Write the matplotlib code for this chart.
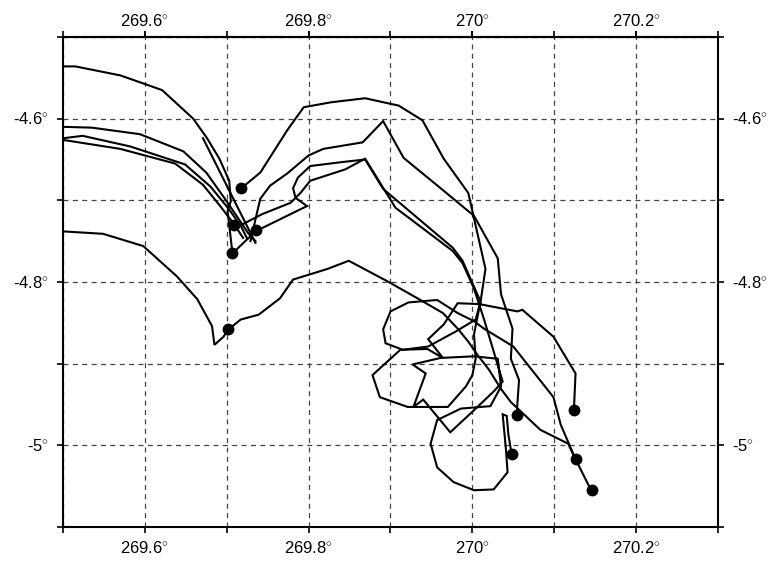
"""
Drifter tracks
==============

Track lines with end positions on a lon/lat grid.
"""
import numpy as np
import matplotlib as mpl
import matplotlib.pyplot as plt
from matplotlib.ticker import MultipleLocator, FixedLocator

mpl.rcParams['font.family'] = ['Liberation Sans', 'DejaVu Sans']
mpl.rcParams['mathtext.fontset'] = 'custom'
mpl.rcParams['mathtext.rm'] = 'Liberation Sans'

#---------------------------------------------------------------------------------------------------
# Track data (lon, lat in degrees)
#---------------------------------------------------------------------------------------------------

track1_lon = [269.500, 269.515, 269.570, 269.621, 269.659, 269.676, 269.691, 269.703, 269.705, 269.701, 269.707]
track1_lat = [-4.536, -4.536, -4.547, -4.565, -4.600, -4.624, -4.649, -4.676, -4.701, -4.713, -4.765]

track2_lon = [269.500, 269.535, 269.594, 269.647, 269.675, 269.697, 269.714, 269.726, 269.735]
track2_lat = [-4.610, -4.611, -4.619, -4.640, -4.666, -4.697, -4.722, -4.740, -4.750]

track3_lon = [269.500, 269.524, 269.582, 269.649, 269.680, 269.702, 269.717, 269.725]
track3_lat = [-4.624, -4.621, -4.634, -4.656, -4.683, -4.710, -4.731, -4.747]

track4_lon = [269.500, 269.570, 269.637, 269.671, 269.692, 269.708, 269.720]
track4_lat = [-4.626, -4.637, -4.655, -4.681, -4.707, -4.728, -4.746]

track5_lon = [269.671, 269.735]
track5_lat = [-4.624, -4.752]

track6_lon = [269.500, 269.549, 269.598, 269.639, 269.664, 269.682, 269.685, 269.696, 269.702, 269.717,
              269.739, 269.765, 269.781, 269.823, 269.849, 269.896, 269.933, 269.964, 269.982, 269.995,
              270.006, 270.020, 270.035, 270.047, 270.083, 270.117, 270.126]
track6_lat = [-4.738, -4.741, -4.756, -4.793, -4.821, -4.854, -4.877, -4.867, -4.858, -4.846,
              -4.840, -4.820, -4.797, -4.784, -4.774, -4.799, -4.820, -4.838, -4.857, -4.873,
              -4.889, -4.907, -4.931, -4.947, -4.981, -4.998, -5.017]

track7_lon = [269.718, 269.741, 269.774, 269.794, 269.827, 269.869, 269.910, 269.939, 269.965, 269.995,
              270.002, 270.016, 270.010, 270.002, 270.004, 270.000, 269.992, 269.970, 269.921, 269.887,
              269.878, 269.912, 269.945, 269.964, 269.946, 269.965, 269.982, 270.008, 270.055, 270.061,
              270.099, 270.126, 270.124]
track7_lat = [-4.685, -4.666, -4.614, -4.586, -4.580, -4.575, -4.584, -4.602, -4.649, -4.691,
              -4.722, -4.784, -4.824, -4.864, -4.894, -4.914, -4.928, -4.953, -4.953, -4.941,
              -4.914, -4.883, -4.882, -4.893, -4.870, -4.852, -4.826, -4.827, -4.836, -4.834,
              -4.867, -4.912, -4.957]

track8_lon = [269.729, 269.737, 269.741, 269.753, 269.774, 269.800, 269.818, 269.866, 269.891, 269.916,
              269.961, 270.002, 270.031, 270.035, 270.049, 270.047, 270.057, 270.054]
track8_lat = [-4.750, -4.715, -4.698, -4.682, -4.667, -4.645, -4.637, -4.629, -4.603, -4.648,
              -4.685, -4.719, -4.771, -4.815, -4.857, -4.894, -4.920, -4.963]

track9_lon = [269.709, 269.720, 269.743, 269.778, 269.790, 269.802, 269.845, 269.869, 269.906, 269.976,
              269.988, 270.002, 270.014, 270.026, 270.037, 270.026, 270.002, 269.973, 269.940, 269.928,
              269.943, 269.927, 269.961, 270.002, 270.031, 270.035, 270.022, 269.986, 269.957, 269.949,
              269.957, 269.977, 270.002, 270.026, 270.043, 270.041, 270.037, 270.042, 270.044, 270.048]
track9_lat = [-4.731, -4.729, -4.717, -4.703, -4.691, -4.676, -4.662, -4.649, -4.709, -4.762,
              -4.777, -4.808, -4.845, -4.885, -4.922, -4.934, -4.957, -4.984, -4.944, -4.953,
              -4.912, -4.901, -4.893, -4.891, -4.894, -4.928, -4.952, -4.955, -4.969, -4.998,
              -5.027, -5.045, -5.055, -5.054, -5.033, -5.005, -4.962, -4.964, -4.987, -5.011]

track10_lon = [269.707, 269.735, 269.798, 269.784, 269.781, 269.787, 269.802, 269.842, 269.869, 269.891,
               269.976, 269.988, 270.010, 270.004, 269.979, 269.946, 269.915, 269.894, 269.891, 269.900,
               269.922, 269.957, 269.982, 270.002, 270.014, 270.050, 270.099, 270.108, 270.126, 270.145]
track10_lat = [-4.765, -4.738, -4.707, -4.697, -4.685, -4.672, -4.658, -4.653, -4.650, -4.686,
               -4.758, -4.774, -4.824, -4.846, -4.861, -4.879, -4.883, -4.875, -4.858, -4.836,
               -4.825, -4.822, -4.838, -4.848, -4.857, -4.879, -4.941, -4.975, -5.017, -5.055]

# marked positions
dot_lon = [269.718, 269.709, 269.736, 269.707, 269.702, 270.124, 270.054, 270.048, 270.126, 270.146]
dot_lat = [-4.685, -4.730, -4.736, -4.765, -4.857, -4.957, -4.963, -5.011, -5.017, -5.055]

tracks = [(track1_lon, track1_lat), (track2_lon, track2_lat), (track3_lon, track3_lat),
          (track4_lon, track4_lat), (track5_lon, track5_lat), (track6_lon, track6_lat),
          (track7_lon, track7_lat), (track8_lon, track8_lat), (track9_lon, track9_lat),
          (track10_lon, track10_lat)]

lon_labels = [269.6, 269.8, 270.0, 270.2]
lat_labels = [-4.6, -4.8, -5.0]

#---------------------------------------------------------------------------------------------------
# Plot
#---------------------------------------------------------------------------------------------------

def fmt_deg(v):
    s = ('%.1f' % v).rstrip('0').rstrip('.')
    return s + r'$^{\circ}$'

def main():
    fig = plt.figure(figsize=(7.75, 5.67), dpi=100)
    ax = fig.add_axes([63 / 775, 40 / 567, 655 / 775, 490 / 567])

    for lon, lat in tracks:
        ax.plot(lon, lat, color='black', lw=1.5, solid_joinstyle='miter', zorder=3)
    ax.plot(dot_lon, dot_lat, 'o', color='black', ms=7.5, zorder=4)

    ax.set_xlim(269.5, 270.3)
    ax.set_ylim(-5.1, -4.5)

    # grid every 0.1 degrees, labels every 0.2
    ax.xaxis.set_major_locator(FixedLocator(lon_labels))
    ax.yaxis.set_major_locator(FixedLocator(lat_labels))
    ax.xaxis.set_minor_locator(MultipleLocator(0.1))
    ax.yaxis.set_minor_locator(MultipleLocator(0.1))
    ax.set_xticklabels([fmt_deg(v) for v in lon_labels])
    ax.set_yticklabels([fmt_deg(v) for v in lat_labels])

    ax.grid(which='both', color='#444444', lw=0.9, ls=(0, (4, 3.5)))
    ax.set_axisbelow(True)

    ax.tick_params(which='both', direction='out', length=4, width=1.2, color='black',
                   top=True, right=True, labeltop=False, labelright=True,
                   labelsize=12, pad=6)

    # top labels on their own axis so they sit closer to the frame
    top = ax.secondary_xaxis('top')
    top.xaxis.set_major_locator(FixedLocator(lon_labels))
    top.set_xticklabels([fmt_deg(v) for v in lon_labels])
    top.tick_params(direction='out', length=4, width=1.2, labelsize=12, pad=1)
    top.spines['top'].set_linewidth(1.5)

    for sp in ax.spines.values():
        sp.set_linewidth(1.5)

    fig.savefig('out.png', dpi=100)


if __name__ == '__main__':
    main()
